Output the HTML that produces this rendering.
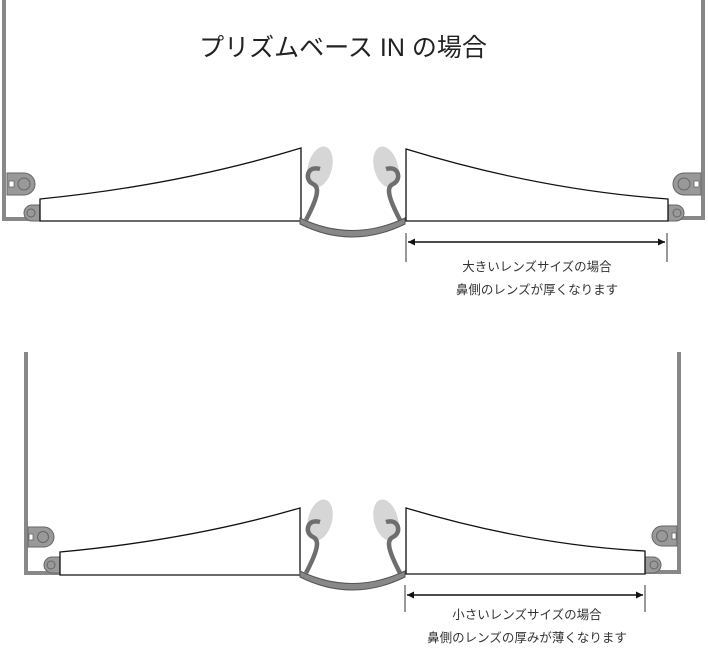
<!DOCTYPE html>
<html><head><meta charset="utf-8"><style>
html,body{margin:0;padding:0;background:#fff;}
svg{display:block;}
text{font-family:"Liberation Sans","Noto Sans CJK JP",sans-serif;fill:#333;}
</style></head><body>
<svg width="708" height="648" viewBox="0 0 708 648" xmlns="http://www.w3.org/2000/svg">
<defs>
<g id="nose">
  <ellipse cx="320" cy="167" rx="12" ry="21" transform="rotate(15 320 167)" fill="#d6d6d6"/>
  <ellipse cx="386" cy="167" rx="12" ry="21" transform="rotate(-15 386 167)" fill="#d6d6d6"/>
  <path d="M320,169 C307,165 304,180 313,184 C320,187 318,197 306,220" fill="none" stroke="#6e6e6e" stroke-width="4.5" stroke-linecap="butt"/>
  <path d="M386,169 C399,165 402,180 393,184 C386,187 388,197 400,220" fill="none" stroke="#6e6e6e" stroke-width="4.5" stroke-linecap="butt"/>
  <path d="M300,218 Q352,243 405,218 L405,224 Q352,250 300,224 Z" fill="#888" stroke="#555" stroke-width="1"/>
</g>
<marker id="ar" viewBox="0 0 10 10" refX="10" refY="5" markerWidth="10" markerHeight="7" orient="auto-start-reverse" markerUnits="userSpaceOnUse"><path d="M0,0 L10,5 L0,10 Z" fill="#111"/></marker>
</defs>

<text x="343" y="56" font-size="25" text-anchor="middle" style="fill:#222">プリズムベース IN の場合</text>

<!-- TOP -->
<path d="M4,0 V219 H40" fill="none" stroke="#888" stroke-width="4"/>
<path d="M7,173 H24 A11,11 0 0 1 24,195 H7 Z" fill="#999" stroke="#666"/>
<circle cx="24" cy="184" r="6" fill="none" stroke="#666"/>
<rect x="9" y="181" width="5" height="6" fill="#fff" stroke="#666" stroke-width=".8"/>
<path d="M40,205 H32 A8,8 0 0 0 32,221 H40 Z" fill="#999" stroke="#666"/>
<circle cx="31" cy="213" r="4" fill="none" stroke="#666"/>
<path d="M40,221 V199 Q180,185 301,148 V221 Z" fill="#fff" stroke="#111" stroke-width="1.3"/>

<path d="M703,0 V218 H668" fill="none" stroke="#888" stroke-width="4"/>
<path d="M701,173 H684 A11,11 0 0 0 684,195 H701 Z" fill="#999" stroke="#666"/>
<circle cx="684" cy="184" r="6" fill="none" stroke="#666"/>
<rect x="694" y="181" width="5" height="6" fill="#fff" stroke="#666" stroke-width=".8"/>
<path d="M668,205 H676 A8,8 0 0 1 676,221 H668 Z" fill="#999" stroke="#666"/>
<circle cx="677" cy="213" r="4" fill="none" stroke="#666"/>
<path d="M406,221 V149 Q540,190 668,199 V221 Z" fill="#fff" stroke="#111" stroke-width="1.3"/>
<use href="#nose"/>

<line x1="406" y1="233" x2="406" y2="262" stroke="#333" stroke-width="1"/>
<line x1="667" y1="233" x2="667" y2="262" stroke="#333" stroke-width="1"/>
<line x1="408" y1="242" x2="665" y2="242" stroke="#111" stroke-width="1.5" marker-start="url(#ar)" marker-end="url(#ar)"/>
<text x="537" y="271" font-size="12.5" text-anchor="middle">大きいレンズサイズの場合</text>
<text x="537" y="294" font-size="12.5" text-anchor="middle">鼻側のレンズが厚くなります</text>

<!-- BOTTOM -->
<path d="M26,352 V573 H60" fill="none" stroke="#888" stroke-width="4"/>
<path d="M28,527 H44 A10,10 0 0 1 44,547 H28 Z" fill="#999" stroke="#666"/>
<circle cx="43" cy="537" r="5.5" fill="none" stroke="#666"/>
<rect x="29" y="534" width="4" height="6" fill="#fff" stroke="#666" stroke-width=".8"/>
<path d="M60,557 H52 A8,8 0 0 0 52,573 H60 Z" fill="#999" stroke="#666"/>
<circle cx="51" cy="565" r="4" fill="none" stroke="#666"/>
<path d="M60,575 V552 Q190,540 300,508 V575 Z" fill="#fff" stroke="#111" stroke-width="1.3"/>

<path d="M679,352 V572 H645" fill="none" stroke="#888" stroke-width="4"/>
<path d="M677,526 H662 A10,10 0 0 0 662,546 H677 Z" fill="#999" stroke="#666"/>
<circle cx="662" cy="536" r="5.5" fill="none" stroke="#666"/>
<rect x="672" y="533" width="4" height="6" fill="#fff" stroke="#666" stroke-width=".8"/>
<path d="M645,557 H653 A8,8 0 0 1 653,573 H645 Z" fill="#999" stroke="#666"/>
<circle cx="654" cy="565" r="4" fill="none" stroke="#666"/>
<path d="M406,574 V508 Q530,545 645,551 V574 Z" fill="#fff" stroke="#111" stroke-width="1.3"/>
<use href="#nose" transform="translate(0,353)"/>

<line x1="405" y1="585" x2="405" y2="612" stroke="#333" stroke-width="1"/>
<line x1="645" y1="585" x2="645" y2="612" stroke="#333" stroke-width="1"/>
<line x1="407" y1="595" x2="643" y2="595" stroke="#111" stroke-width="1.5" marker-start="url(#ar)" marker-end="url(#ar)"/>
<text x="527" y="619" font-size="12.5" text-anchor="middle">小さいレンズサイズの場合</text>
<text x="527" y="642" font-size="12.5" text-anchor="middle">鼻側のレンズの厚みが薄くなります</text>
</svg>
</body></html>
